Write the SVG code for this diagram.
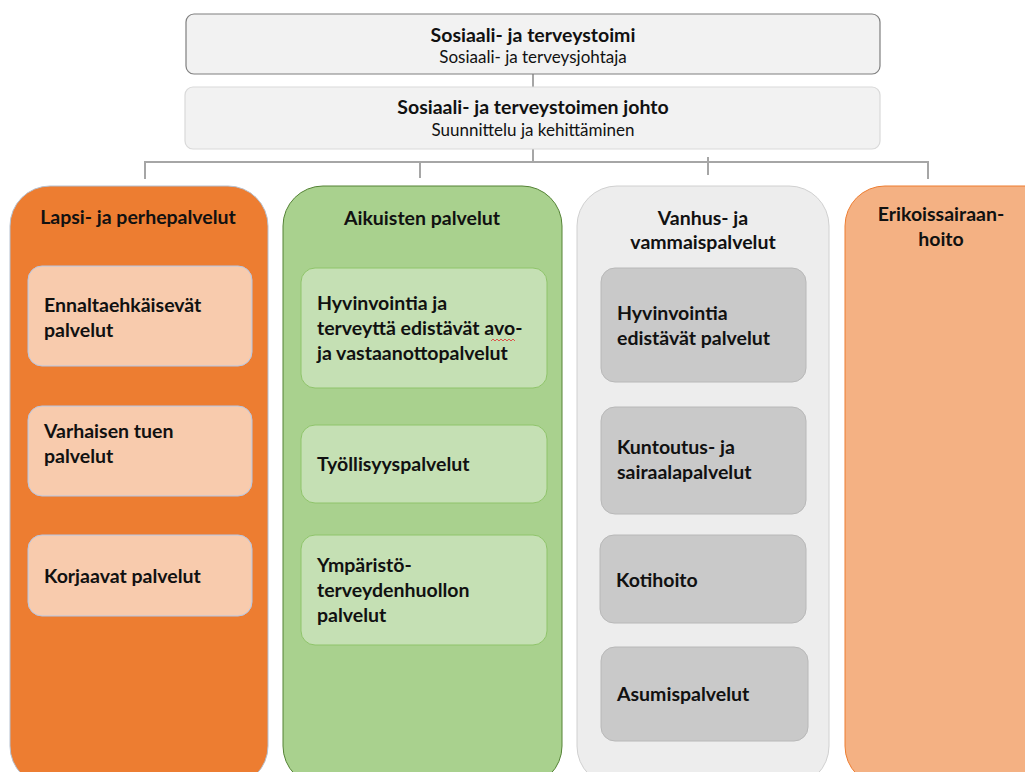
<svg xmlns="http://www.w3.org/2000/svg" width="1025" height="772" viewBox="0 0 1025 772">
<style>
text{font-family:Lato,"Open Sans","Liberation Sans",sans-serif;fill:#111}
.b{font-weight:bold;font-size:19.5px}
.n{font-size:17px}
.c{text-anchor:middle}
.conn{stroke:#a6a6a6;stroke-width:2;fill:none}
</style>
<rect width="1025" height="772" fill="#fff"/>
<g id="connectors">
<line class="conn" x1="533" y1="74" x2="533" y2="87"/>
<path class="conn" d="M533 149V162M145 179V162H928V179M420 162V178M708 157V175"/>
</g>
<g id="top">
<rect x="186" y="14" width="694" height="60" rx="8" fill="#f2f2f2" stroke="#7f7f7f" stroke-width="1.2"/>
<text class="b c" x="533" y="42">Sosiaali- ja terveystoimi</text>
<text class="n c" x="533" y="63">Sosiaali- ja terveysjohtaja</text>
</g>
<g id="johto">
<rect x="185" y="87" width="695" height="62" rx="8" fill="#f2f2f2" stroke="#d9d9d9" stroke-width="1.2"/>
<text class="b c" x="533" y="114">Sosiaali- ja terveystoimen johto</text>
<text class="n c" x="533" y="136">Suunnittelu ja kehittäminen</text>
</g>
<g id="col1">
<rect x="10" y="186" width="258" height="600" rx="40" fill="#ed7d31" stroke="#b4c0d0" stroke-width="1"/>
<text class="b c" x="138" y="224">Lapsi- ja perhepalvelut</text>
</g>
<g id="c1a">
<rect x="28" y="266" width="224" height="100" rx="14" fill="#f8cbad" stroke="#b4c7e7" stroke-width="1"/>
<text class="b" x="44" y="312">Ennaltaehkäisevät</text>
<text class="b" x="44" y="337">palvelut</text>
</g>
<g id="c1b">
<rect x="28" y="406" width="224" height="90" rx="14" fill="#f8cbad" stroke="#b4c7e7" stroke-width="1"/>
<text class="b" x="44" y="438">Varhaisen tuen</text>
<text class="b" x="44" y="463">palvelut</text>
</g>
<g id="c1c">
<rect x="28" y="535" width="224" height="81" rx="14" fill="#f8cbad" stroke="#b4c7e7" stroke-width="1"/>
<text class="b" x="44" y="583">Korjaavat palvelut</text>
</g>
<g id="col2">
<rect x="283" y="186" width="279" height="600" rx="40" fill="#a9d18e" stroke="#548235" stroke-width="1"/>
<text class="b c" x="422" y="225">Aikuisten palvelut</text>
</g>
<g id="c2a">
<rect x="301" y="268" width="246" height="120" rx="14" fill="#c5e0b4" stroke="#8fc46a" stroke-width="1"/>
<text class="b" x="317" y="310">Hyvinvointia ja</text>
<text class="b" x="317" y="335">terveyttä edistävät avo-</text>
<text class="b" x="317" y="360">ja vastaanottopalvelut</text>
<path d="M491 341l2 -2 2 2 2 -2 2 2 2 -2 2 2 2 -2 2 2 2 -2 2 2 2 -2 2 2" fill="none" stroke="#e03030" stroke-width="0.8"/>
</g>
<g id="c2b">
<rect x="301" y="425" width="246" height="78" rx="14" fill="#c5e0b4" stroke="#8fc46a" stroke-width="1"/>
<text class="b" x="317" y="471">Työllisyyspalvelut</text>
</g>
<g id="c2c">
<rect x="301" y="535" width="246" height="110" rx="14" fill="#c5e0b4" stroke="#8fc46a" stroke-width="1"/>
<text class="b" x="317" y="572">Ympäristö-</text>
<text class="b" x="317" y="597">terveydenhuollon</text>
<text class="b" x="317" y="622">palvelut</text>
</g>
<g id="col3">
<rect x="577" y="186" width="252" height="600" rx="40" fill="#ededed" stroke="#d0d0d0" stroke-width="1"/>
<text class="b c" x="703" y="225">Vanhus- ja</text>
<text class="b c" x="703" y="249">vammaispalvelut</text>
</g>
<g id="c3a">
<rect x="601" y="268" width="205" height="114" rx="14" fill="#c9c9c9" stroke="#b8b8b8" stroke-width="1"/>
<text class="b" x="617" y="320">Hyvinvointia</text>
<text class="b" x="617" y="345">edistävät palvelut</text>
</g>
<g id="c3b">
<rect x="601" y="407" width="205" height="107" rx="14" fill="#c9c9c9" stroke="#b8b8b8" stroke-width="1"/>
<text class="b" x="617" y="454">Kuntoutus- ja</text>
<text class="b" x="617" y="479">sairaalapalvelut</text>
</g>
<g id="c3c">
<rect x="600" y="535" width="206" height="88" rx="14" fill="#c9c9c9" stroke="#b8b8b8" stroke-width="1"/>
<text class="b" x="616" y="587">Kotihoito</text>
</g>
<g id="c3d">
<rect x="601" y="647" width="207" height="94" rx="14" fill="#c9c9c9" stroke="#b8b8b8" stroke-width="1"/>
<text class="b" x="617" y="701">Asumispalvelut</text>
</g>
<g id="col4">
<rect x="845" y="186" width="220" height="600" rx="40" fill="#f4b183" stroke="#ed7d31" stroke-width="1"/>
<text class="b c" x="941" y="221">Erikoissairaan-</text>
<text class="b c" x="941" y="246">hoito</text>
</g>
</svg>
